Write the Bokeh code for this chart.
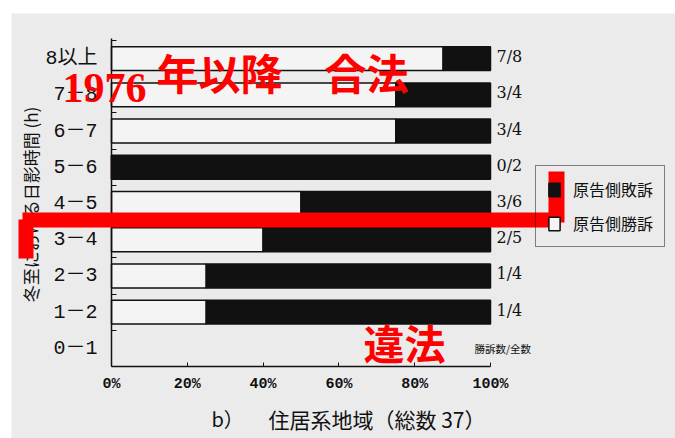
import math
from bokeh.plotting import figure
from bokeh.models import (Range1d, FixedTicker, ColumnDataSource, Label, BoxAnnotation,
                          Legend, LegendItem)
from bokeh.core.properties import value
from bokeh.embed import file_html
from bokeh.resources import INLINE

# ---------------- data ----------------
categories = ["0－1", "1－2", "2－3", "3－4", "4－5", "5－6", "6－7", "7－8", "8以上"]
wins = [0, 1, 1, 2, 3, 0, 3, 3, 7]
totals = [0, 4, 4, 5, 6, 2, 4, 4, 8]
x_ticks = [0, 20, 40, 60, 80, 100]
x_tick_labels = ["0%", "20%", "40%", "60%", "80%", "100%"]
legend_labels = ["原告側敗訴", "原告側勝訴"]
x_title_prefix = "b）"
x_title = "住居系地域（総数 37）"
y_title = "冬至における日影時間 (h)"
column_header = "勝訴数/全数"
overlay_year = "1976"
overlay_top_text = "年以降　合法"
overlay_bottom_text = "違法"

# ---------------- style / layout ----------------
BG = "#ebebeb"
WHITE_BAR = "#f4f4f4"
INK = "#111111"
RED = "#ff0000"
CJK = "Noto Sans CJK JP"

W, H = 675, 438
X0_PX, Y0_PX = 111, 366          # canvas position of (0 %, row 0)
PX_PER_PCT = 3.79
PX_PER_ROW = 36.22
N = len(categories)

def px_x(px):
    return (px - X0_PX) / PX_PER_PCT

def px_y(py):
    return (Y0_PX - py) / PX_PER_ROW

p = figure(width=W, height=H, output_backend="svg", toolbar_location=None,
           x_range=Range1d(px_x(0), px_x(W)),
           y_range=Range1d(px_y(H), px_y(0)),
           min_border=0, min_border_left=0, min_border_right=0,
           min_border_top=0, min_border_bottom=0,
           background_fill_color="white", border_fill_color="white",
           outline_line_color=None)
p.xgrid.visible = False
p.ygrid.visible = False

# paper background (scan leaves a white strip on top/left)
p.add_layout(BoxAnnotation(left=px_x(11), right=px_x(W), top=px_y(13), bottom=px_y(H),
                           fill_color=BG, fill_alpha=1.0, line_color=None, level="underlay"))

# x axis
p.xaxis.fixed_location = 0
p.xaxis.ticker = FixedTicker(ticks=x_ticks)
p.xaxis.major_label_overrides = {t: l for t, l in zip(x_ticks, x_tick_labels)}
p.xaxis.bounds = (0, 100)
p.xaxis.major_tick_in = 4
p.xaxis.major_tick_out = 0
p.xaxis.minor_tick_in = 0
p.xaxis.minor_tick_out = 0
p.xaxis.major_label_standoff = 9
p.xaxis.major_label_text_font = "Liberation Mono"
p.xaxis.major_label_text_font_style = "bold"
p.xaxis.major_label_text_font_size = "15px"
p.xaxis.major_label_text_color = INK
p.xaxis.axis_line_color = INK
p.xaxis.axis_line_width = 1.5
p.xaxis.major_tick_line_color = INK

# y axis
row_centers = [i + 0.5 for i in range(N)]
p.yaxis.fixed_location = 0
p.yaxis.ticker = FixedTicker(ticks=row_centers, minor_ticks=list(range(1, N + 1)))
p.yaxis.major_label_overrides = {c: cat for c, cat in zip(row_centers, categories)}
p.yaxis.bounds = (0, px_y(38))
p.yaxis.major_tick_in = 0
p.yaxis.major_tick_out = 0
p.yaxis.minor_tick_in = 5
p.yaxis.minor_tick_out = 0
p.yaxis.major_label_standoff = 14
p.yaxis.major_label_text_font = "Liberation Mono, Noto Sans CJK JP"
p.yaxis.major_label_text_font_size = "20px"
p.yaxis.major_label_text_color = INK
p.yaxis.axis_line_color = INK
p.yaxis.axis_line_width = 1.5
p.yaxis.minor_tick_line_color = INK

# bars
ys, win_pct, fracs = [], [], []
for i, (w, t) in enumerate(zip(wins, totals)):
    if t > 0:
        ys.append(row_centers[i])
        win_pct.append(100.0 * w / t)
        fracs.append(f"{w}/{t}")
src = ColumnDataSource(dict(y=ys, win=win_pct, full=[100] * len(ys), frac=fracs))

r_white = p.hbar(y="y", left=0, right="win", height=0.66, source=src,
                 fill_color=WHITE_BAR, line_color=INK, line_width=1.5)
r_black = p.hbar(y="y", left="win", right="full", height=0.66, source=src,
                 fill_color=INK, line_color=INK, line_width=1.5)

p.text(x="full", y="y", text="frac", source=src, x_offset=6, y_offset=-2,
       text_align="left", text_baseline="middle", text_color=INK,
       text_font=value("DejaVu Serif"), text_font_size="16px")
p.text(x=[100], y=[row_centers[0]], text=[column_header], x_offset=-16,
       text_align="left", text_baseline="middle", text_color=INK,
       text_font=value(CJK), text_font_size="10.5px")

legend = Legend(items=[LegendItem(label=legend_labels[0], renderers=[r_black]),
                       LegendItem(label=legend_labels[1], renderers=[r_white])],
                location=(535, H - 247), orientation="vertical",
                border_line_color=INK, border_line_width=1.5,
                background_fill_alpha=0, padding=11, spacing=10, margin=0,
                glyph_width=14, glyph_height=17, label_height=17, label_standoff=12,
                label_text_font=CJK, label_text_font_size="16px", label_text_color=INK)
p.add_layout(legend)

# axis titles
p.add_layout(Label(x=px_x(30), y=px_y(204), text=y_title, angle=math.pi / 2,
                   text_align="center", text_baseline="middle", text_color=INK,
                   text_font=CJK, text_font_size="17px"))
p.add_layout(Label(x=px_x(211), y=px_y(418), text=x_title_prefix,
                   text_align="left", text_baseline="middle", text_color=INK,
                   text_font=CJK, text_font_size="20px"))
p.add_layout(Label(x=px_x(268), y=px_y(418), text=x_title,
                   text_align="left", text_baseline="middle", text_color=INK,
                   text_font=CJK, text_font_size="21px"))

# red overlays
for (l, r, t, b) in [(22, 560, 212, 227), (548, 564, 171, 222), (18, 33, 219, 258)]:
    p.add_layout(BoxAnnotation(left=px_x(l), right=px_x(r), top=px_y(t), bottom=px_y(b),
                               fill_color=RED, fill_alpha=1.0, line_color=None,
                               level="overlay"))
p.add_layout(Label(x=px_x(62), y=px_y(87), text=overlay_year, text_align="left",
                   text_baseline="alphabetic", text_color=RED, text_font="Liberation Serif",
                   text_font_style="bold", text_font_size="42px"))
p.add_layout(Label(x=px_x(156), y=px_y(71), text=overlay_top_text, text_align="left",
                   text_baseline="middle", text_color=RED, text_font=CJK,
                   text_font_style="bold", text_font_size="42px"))
p.add_layout(Label(x=px_x(363), y=px_y(341), text=overlay_bottom_text, text_align="left",
                   text_baseline="middle", text_color=RED, text_font=CJK,
                   text_font_style="bold", text_font_size="41px"))

open("out.html", "w").write(file_html(p, INLINE))
